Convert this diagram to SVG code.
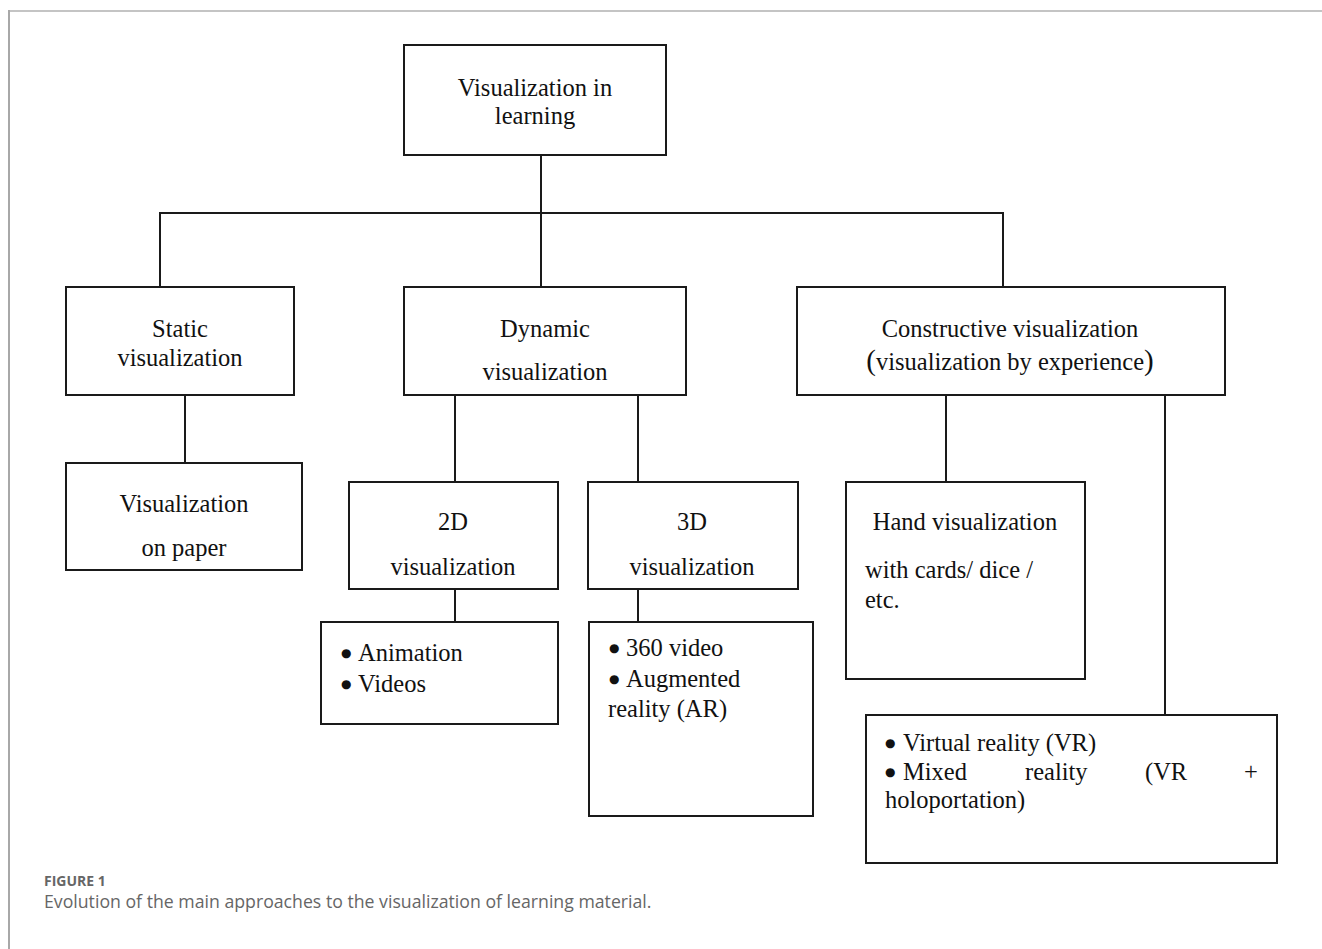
<svg xmlns="http://www.w3.org/2000/svg" width="1322" height="949" viewBox="0 0 1322 949">
<style>
.box{fill:#fff;stroke:#1a1a1a;stroke-width:2}
.ln{fill:none;stroke:#1a1a1a;stroke-width:2}
.t{font-family:"Liberation Serif","Times New Roman",serif;font-size:24.5px;fill:#111}
.c{text-anchor:middle}
.b{font-family:"DejaVu Sans",sans-serif;font-size:12px}
.p{font-size:29px}
.cap1{font-family:"Open Sans","Noto Sans",sans-serif;font-size:14px;font-weight:bold;fill:#666}
.cap2{font-family:"Open Sans","Noto Sans",sans-serif;font-size:17.7px;fill:#666}
</style>
<rect width="1322" height="949" fill="#fff"/>
<g id="frame">
<line x1="9" y1="11" x2="1322" y2="11" stroke="#c4c4c4" stroke-width="2"/>
<line x1="9" y1="10" x2="9" y2="949" stroke="#a8a8a8" stroke-width="2"/>
</g>
<g id="connectors">
<path class="ln" d="M541 155V287M160 287V213H1003V287"/>
<path class="ln" d="M185 395V463"/>
<path class="ln" d="M455 395V482M638 395V482"/>
<path class="ln" d="M455 589V622M638 589V622"/>
<path class="ln" d="M946 395V482M1165 395V715"/>
</g>
<g id="n-root">
<rect class="box" x="404" y="45" width="262" height="110"/>
<text class="t c" x="535" y="96">Visualization in</text>
<text class="t c" x="535" y="124">learning</text>
</g>
<g id="n-static">
<rect class="box" x="66" y="287" width="228" height="108"/>
<text class="t c" x="180" y="337">Static</text>
<text class="t c" x="180" y="366">visualization</text>
</g>
<g id="n-paper">
<rect class="box" x="66" y="463" width="236" height="107"/>
<text class="t c" x="184" y="512">Visualization</text>
<text class="t c" x="184" y="556">on paper</text>
</g>
<g id="n-dynamic">
<rect class="box" x="404" y="287" width="282" height="108"/>
<text class="t c" x="545" y="337">Dynamic</text>
<text class="t c" x="545" y="380">visualization</text>
</g>
<g id="n-2d">
<rect class="box" x="349" y="482" width="209" height="107"/>
<text class="t c" x="453" y="530">2D</text>
<text class="t c" x="453" y="575">visualization</text>
</g>
<g id="n-3d">
<rect class="box" x="588" y="482" width="210" height="107"/>
<text class="t c" x="692" y="530">3D</text>
<text class="t c" x="692" y="575">visualization</text>
</g>
<g id="n-2d-list">
<rect class="box" x="321" y="622" width="237" height="102"/>
<text class="t" y="661"><tspan class="b" x="341" dy="-4">●</tspan><tspan x="358" dy="4">Animation</tspan></text>
<text class="t" y="692"><tspan class="b" x="341" dy="-4">●</tspan><tspan x="358" dy="4">Videos</tspan></text>
</g>
<g id="n-3d-list">
<rect class="box" x="589" y="622" width="224" height="194"/>
<text class="t" y="656"><tspan class="b" x="609" dy="-4">●</tspan><tspan x="626" dy="4">360 video</tspan></text>
<text class="t" y="687"><tspan class="b" x="609" dy="-4">●</tspan><tspan x="626" dy="4">Augmented</tspan></text>
<text class="t" x="608" y="717">reality (AR)</text>
</g>
<g id="n-constructive">
<rect class="box" x="797" y="287" width="428" height="108"/>
<text class="t c" x="1010" y="337">Constructive visualization</text>
<text class="t c" x="1010" y="370"><tspan class="p">(</tspan>visualization by experience<tspan class="p">)</tspan></text>
</g>
<g id="n-hand">
<rect class="box" x="846" y="482" width="239" height="197"/>
<text class="t c" x="965" y="530">Hand visualization</text>
<text class="t" x="865" y="578">with cards/ dice /</text>
<text class="t" x="865" y="608">etc.</text>
</g>
<g id="n-vr">
<rect class="box" x="866" y="715" width="411" height="148"/>
<text class="t" y="751"><tspan class="b" x="885" dy="-4">●</tspan><tspan x="903" dy="4">Virtual reality (VR)</tspan></text>
<text class="t" y="780"><tspan class="b" x="885" dy="-4">●</tspan><tspan x="903" dy="4">Mixed</tspan><tspan x="1025">reality</tspan><tspan x="1145">(VR</tspan><tspan x="1244">+</tspan></text>
<text class="t" x="885" y="808">holoportation)</text>
</g>
<g id="caption">
<text class="cap1" x="44" y="886">FIGURE 1</text>
<text class="cap2" x="44" y="908">Evolution of the main approaches to the visualization of learning material.</text>
</g>
</svg>
